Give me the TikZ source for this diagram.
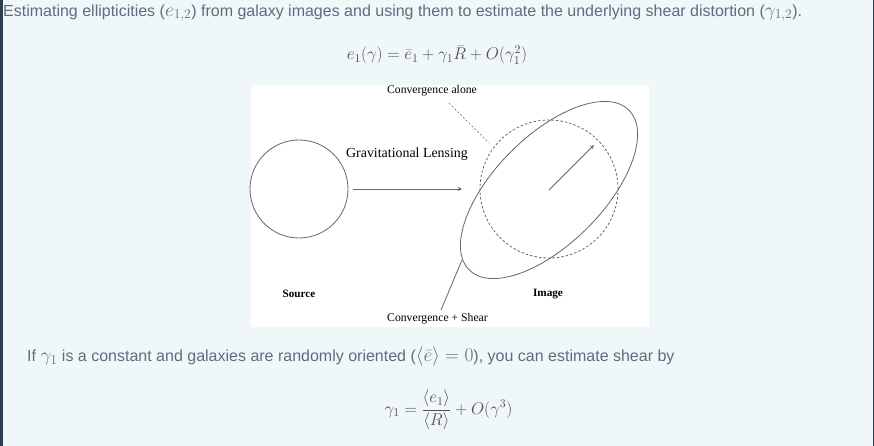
\documentclass[tikz,border=0pt]{standalone}
\usepackage{fix-cm}
\usepackage{fontspec}
\usepackage{amsmath}
\newfontfamily\webfont{Liberation Sans}
\newfontfamily\figfont{Liberation Serif}
\usetikzlibrary{positioning,shapes.geometric,arrows}
\definecolor{pagebg}{HTML}{F0F7F9}
\definecolor{pageedge}{HTML}{2C3E50}
\definecolor{webtext}{HTML}{5D6D7E}
\definecolor{mathtext}{HTML}{505050}
\definecolor{figline}{HTML}{666666}
% inline math is set larger than the text round it
\newcommand{\webmath}[1]{{\fontsize{19.4}{19.4}\selectfont$#1$}}

\begin{document}
\begin{tikzpicture}[x=1pt,y=-1pt]
    \tikzstyle{lensarrow} = [thick,->,>=stealth]
       \tikzset{webline/.style = {font=\webfont\fontsize{16}{19}\selectfont, text=webtext, inner sep=0pt}, }
       \tikzset{formula/.style = {font=\fontsize{17}{20}\selectfont, text=mathtext, inner sep=0pt}, }
       \tikzset{figlabel/.style = {font=\figfont\fontsize{11.7}{14}\selectfont, inner sep=0pt}, }
       \tikzset{galaxy/.style = {draw=figline, line width=0.8pt, inner sep=0pt}, }
       % page
       \useasboundingbox (0,0) rectangle (874,446);
       \fill[pagebg] (0,0) rectangle (874,446);
       \fill[pageedge] (0,0) rectangle (2.5,446);
       \fill[pageedge] (872.5,0) rectangle (874,446);
       \fill[white] (251,85) rectangle (649,327);

       \node[webline, anchor=west] (intro) at (3,13) {Estimating ellipticities (\webmath{e_{1,2}}) from galaxy images and using them to estimate the underlying shear distortion (\webmath{\gamma_{1,2}}).};
       \node[formula] (eqone) at (437,55) {$e_1(\gamma) = \bar{e}_1 + \gamma_1\bar{R} + O(\gamma_1^2)$};

       % figure
       \node[galaxy, circle, minimum size=98pt] (src) at (299,189) {};
       \node[galaxy, circle, dashed, dash pattern=on 2.5pt off 2pt, minimum size=138pt] (conv) at (549,189) {};
       \node[galaxy, ellipse, rotate=45, minimum width=226pt, minimum height=108pt] (img) at (549,190) {};
       \coordinate (lensend) at (462,189);
       \coordinate (sheartip) at (594,145);
       \draw[lensarrow, figline, line width=0.9pt] ([xshift=5pt]src.east) -- (lensend);
       \draw[->, >=stealth, figline, line width=0.8pt] (img.center) -- (sheartip);
       \node[figlabel, font=\figfont\fontsize{13.9}{16}\selectfont, above=28pt of lensend, xshift=-55pt] (lenslabel) {Gravitational Lensing};

       \node[figlabel, font=\figfont\bfseries\fontsize{11.2}{14}\selectfont] (srclabel) at (299,294) {Source};
       \node[figlabel, font=\figfont\bfseries\fontsize{11.2}{14}\selectfont] (imglabel) at (548,294) {Image};

       \node[figlabel] (calone) at (432,91) {Convergence alone};
       \coordinate (ca1) at (449,103);
       \coordinate (ca2) at (489,143);
       \draw[figline, dashed, dash pattern=on 2pt off 2pt, line width=0.6pt] (ca1) -- (ca2);

       \node[figlabel] (cshear) at (437.5,319) {Convergence + Shear};
       \coordinate (cs1) at (441,310);
       \coordinate (cs2) at (462,260);
       \draw[figline, line width=0.8pt] (cs1) -- (cs2);

       % below the figure
       \node[webline, anchor=west] (ifline) at (27,357) {If \webmath{\gamma_1} is a constant and galaxies are randomly oriented (\webmath{\langle\bar{e}\rangle = 0}), you can estimate shear by};
       \node[formula] (eqtwo) at (448.5,410) {$\displaystyle \gamma_1 = \frac{\langle e_1\rangle}{\langle R\rangle} + O(\gamma^3)$};
\end{tikzpicture}
\end{document}
